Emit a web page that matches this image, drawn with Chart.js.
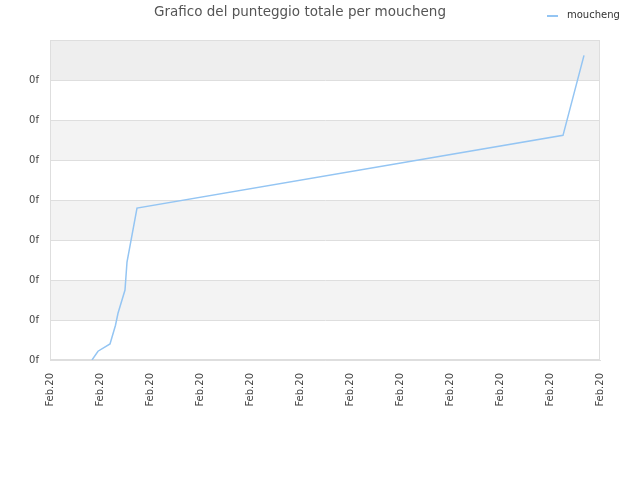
<!DOCTYPE html>
<html>
<head>
<meta charset="utf-8">
<script src="https://cdn.jsdelivr.net/npm/chart.js@4"></script>
<style>
html,body{margin:0;padding:0;background:#fff;}
#wrap{width:640px;height:480px;}
</style>
</head>
<body>
<div id="wrap"><canvas id="c" width="640" height="480"></canvas></div>
<script>
const seriesName = 'moucheng';
const chartTitle = 'Grafico del punteggio totale per moucheng';
const xTickLabel = 'Feb.20';
const yTickLabel = '0f';
const xValues = [0.84, 0.96, 1.2, 1.31, 1.36, 1.5, 1.54, 1.74, 10.26, 10.68];
const yValues = [0.0, 0.22, 0.4, 0.87, 1.17, 1.75, 2.45, 3.8, 5.62, 7.62];

const points = xValues.map((x, i) => ({x: x, y: yValues[i]}));
const lineColor = '#94c5f3';
const gridColor = '#dedede';

const bandsPlugin = {
  id: 'bands',
  beforeDraw(chart) {
    const {ctx, chartArea: a, scales: {y}} = chart;
    ctx.save();
    for (let v = 0; v < 8; v++) {
      let col = null;
      if (v === 7) col = '#eeeeee';
      else if (v % 2 === 1) col = '#f3f3f3';
      if (!col) continue;
      const top = y.getPixelForValue(v + 1), bot = y.getPixelForValue(v);
      ctx.fillStyle = col;
      ctx.fillRect(a.left, top, a.right - a.left, bot - top);
    }
    ctx.restore();
  },
  beforeDatasetsDraw(chart) {
    const {ctx, chartArea: a} = chart;
    ctx.save();
    ctx.strokeStyle = gridColor;
    ctx.lineWidth = 1;
    ctx.strokeRect(Math.round(a.left) + 0.5, Math.round(a.top) + 0.5, Math.round(a.right - a.left) - 1, Math.round(a.bottom - a.top) - 1);
    ctx.restore();
  },
  afterDraw(chart) {
    const ctx = chart.ctx;
    ctx.save();
    ctx.strokeStyle = lineColor;
    ctx.lineWidth = 2;
    ctx.beginPath();
    ctx.moveTo(547, 16);
    ctx.lineTo(558, 16);
    ctx.stroke();
    ctx.fillStyle = '#333';
    ctx.font = '10px "DejaVu Sans"';
    ctx.textBaseline = 'middle';
    ctx.textAlign = 'left';
    ctx.fillText(chart.data.datasets[0].label, 567, 15.5);
    ctx.restore();
  }
};

new Chart(document.getElementById('c'), {
  type: 'line',
  data: {
    datasets: [{
      label: seriesName,
      data: points,
      borderColor: lineColor,
      backgroundColor: lineColor,
      borderWidth: 1.5,
      pointRadius: 0,
      tension: 0,
      fill: false
    }]
  },
  options: {
    responsive: false,
    animation: false,
    devicePixelRatio: 1,
    layout: {padding: {left: 0, right: 40, top: 0, bottom: 0}},
    plugins: {
      legend: {display: false},
      tooltip: {enabled: false},
      title: {
        display: true,
        text: chartTitle,
        color: '#555',
        font: {family: 'DejaVu Sans', size: 13.5, weight: 'normal'},
        padding: {top: 4, bottom: 20}
      }
    },
    scales: {
      x: {
        type: 'linear',
        min: 0, max: 11,
        ticks: {
          stepSize: 1,
          autoSkip: false,
          minRotation: 90, maxRotation: 90,
          color: '#444',
          padding: 13,
          font: {family: 'DejaVu Sans', size: 10},
          callback: () => xTickLabel
        },
        grid: {display: false, drawTicks: false},
        border: {display: true, color: gridColor},
        afterFit(scale) { scale.height = 120; }
      },
      y: {
        min: 0, max: 8,
        ticks: {
          stepSize: 1,
          color: '#444',
          padding: 11,
          font: {family: 'DejaVu Sans', size: 10},
          callback: (v) => v === 8 ? '' : yTickLabel
        },
        grid: {color: gridColor, drawTicks: false},
        border: {display: true, color: gridColor},
        afterFit(scale) { scale.width = 50; }
      }
    }
  },
  plugins: [bandsPlugin]
});
</script>
</body>
</html>
